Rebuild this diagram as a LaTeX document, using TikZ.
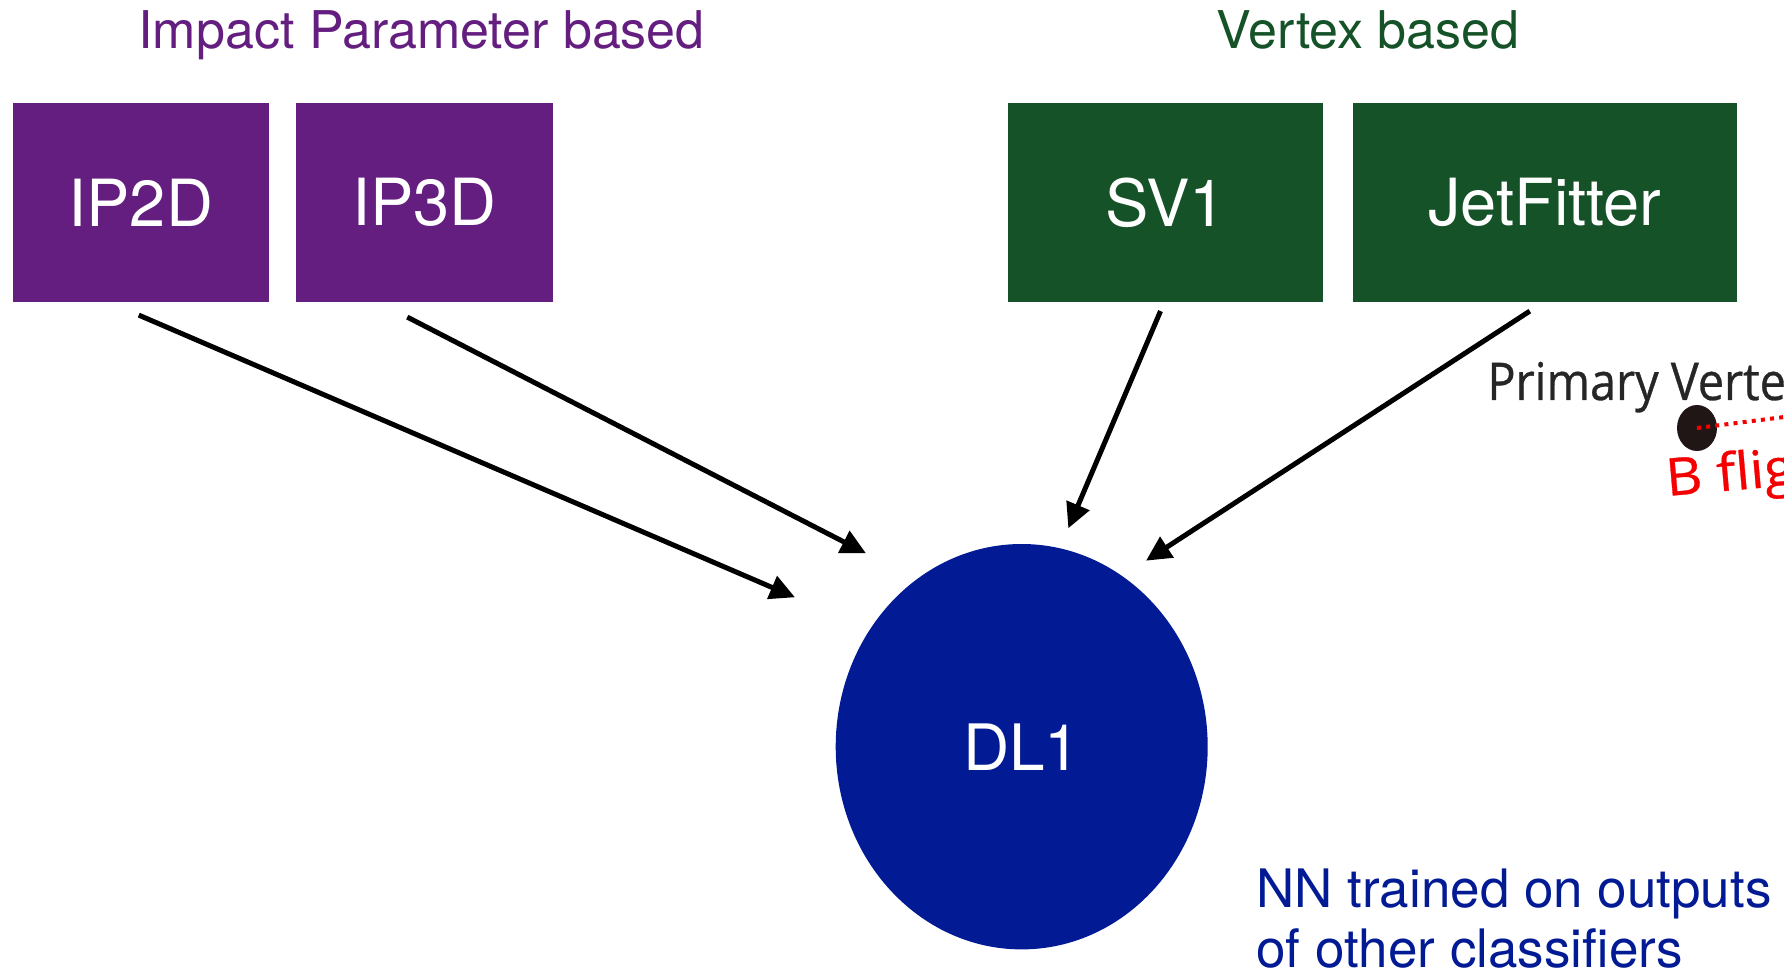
\documentclass[tikz,border=0pt]{standalone}
\usepackage{fontspec}
\setmainfont{TeX Gyre Heros}
\newfontfamily\sketchfont[FakeStretch=0.9,FakeBold=0.6]{Open Sans}
\newfontfamily\sketchwidefont[FakeStretch=1.08,FakeBold=0.6]{Open Sans}
\usetikzlibrary{arrows.meta,shapes.geometric,positioning}

\definecolor{ippurple}{RGB}{100,30,128}
\definecolor{vtxgreen}{RGB}{21,82,40}
\definecolor{nnblue}{RGB}{2,27,148}
\definecolor{pvred}{RGB}{245,0,0}
\definecolor{pvdark}{RGB}{32,22,22}

\begin{document}
\begin{tikzpicture}[x=0.5pt,y=-0.5pt]

\tikzset{
  tagger/.style={rectangle, minimum height=99.35pt, inner sep=0pt, text=white,
    font=\fontsize{32.5}{39}\selectfont},
  heading/.style={anchor=base, inner sep=0pt, font=\fontsize{26}{31}\selectfont},
  feed/.style={-{Triangle[length=12.5pt,width=12pt]}, line width=2.5pt, black},
}

\useasboundingbox (0,0) rectangle (1784,973);

%% Impact parameter taggers
\node[heading, text=ippurple] (iphead) at (421.5,49) {Impact Parameter based};
\node[tagger, fill=ippurple, minimum width=128.25pt] (ip2d) at (140.75,202.35) {IP2D};
\node[tagger, fill=ippurple, minimum width=128.5pt, right=13pt of ip2d] (ip3d) {IP3D};

%% Vertex taggers
\node[heading, text=vtxgreen] (vtxhead) at (1368,48.5) {Vertex based};
\node[tagger, fill=vtxgreen, minimum width=157.5pt] (sv1) at (1165.5,202.35) {SV1};
\node[tagger, fill=vtxgreen, minimum width=192pt, right=14.5pt of sv1] (jetfitter) {JetFitter};

%% Combined tagger
\node[ellipse, fill=nnblue, minimum width=186pt, minimum height=202.7pt, inner sep=0pt,
  text=white, font=\fontsize{32}{38}\selectfont] (dl1) at (1021.7,746.7) {DL1};

\node[anchor=base west, inner sep=0pt, text=nnblue, font=\fontsize{26.5}{30}\selectfont]
  (nnline) at (1256,907) {NN trained on outputs};
\node[anchor=base west, inner sep=0pt, text=nnblue, font=\fontsize{26.5}{30}\selectfont]
  (nnline2) at ([yshift=-30pt]nnline.base west) {of other classifiers};

%% Inputs into DL1
\draw[feed] ([shift={(-2,13)}]ip2d.south) -- ([shift={(-226.7,-149.4)}]dl1.center);
\draw[feed] ([shift={(-17,15)}]ip3d.south) -- ([shift={(-155.7,-193.4)}]dl1.center);
\draw[feed] ([shift={(-5,9)}]sv1.south) -- ([shift={(46.6,-218.4)}]dl1.center);
\draw[feed] ([shift={(-15,9)}]jetfitter.south) -- ([shift={(124.3,-186)}]dl1.center);

%% Vertex sketch, cut at the edge
\begin{scope}
\clip (0,0) rectangle (1784,973);
\node[anchor=base west, inner sep=0pt, text=black!85, font=\sketchfont\fontsize{26}{30}\selectfont]
  (pvlabel) at (1487,400) {Primary Vertex};
\node[ellipse, fill=pvdark, minimum width=20pt, minimum height=23pt, inner sep=0pt]
  (pvdot) at (1697,428) {};
\coordinate (bflight) at (1800,415);
\draw[pvred, line width=2pt, dash pattern=on 2pt off 2.6pt] (pvdot.center) -- (bflight);
\node[anchor=base west, inner sep=0pt, rotate=5, text=pvred, font=\sketchwidefont\fontsize{26}{30}\selectfont]
  (bflabel) at (1667,496) {B flight};
\end{scope}

\end{tikzpicture}
\end{document}
